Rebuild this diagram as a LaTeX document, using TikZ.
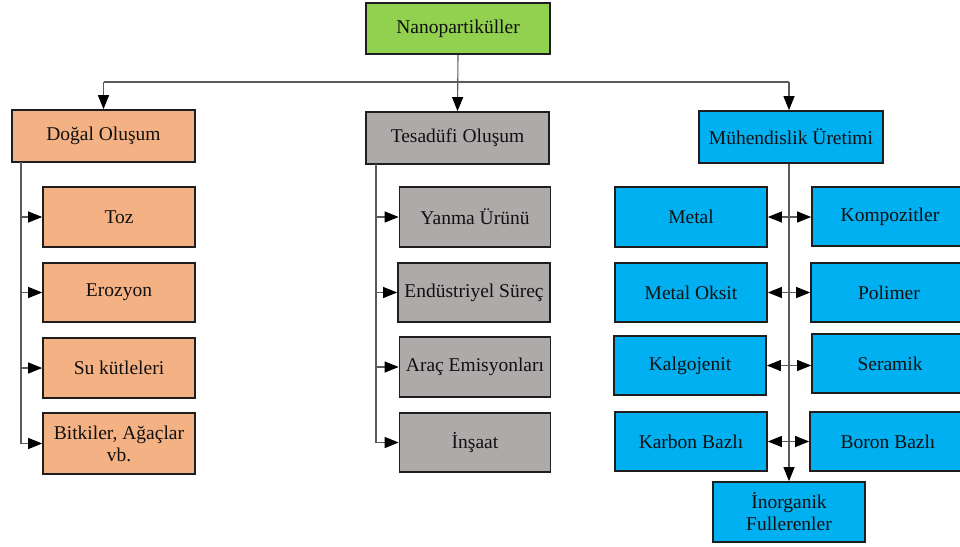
\documentclass[tikz,border=0pt]{standalone}
\usepackage{fontspec}
\setmainfont{Liberation Serif}
\usetikzlibrary{arrows.meta}
\definecolor{cgreen}{HTML}{92D050}
\definecolor{corange}{HTML}{F4B183}
\definecolor{cgray}{HTML}{AEAAAA}
\definecolor{cblue}{HTML}{00B0F0}
\definecolor{cline}{HTML}{5A5A5A}
\definecolor{cborder}{HTML}{1E1E1E}
\definecolor{ctext}{HTML}{101010}
\tikzset{
  box/.style={draw=cborder, line width=1.7pt, inner sep=0pt, align=center,
    text=ctext, font=\fontsize{19.5}{22}\selectfont},
  conn/.style={draw=cline, line width=1.1pt},
  tipa/.tip={Triangle[length=14pt,width=11pt,color=black,fill=black]},
  arr/.style={conn, -tipa},
  darr/.style={conn, tipa-tipa},
}
\begin{document}
\begin{tikzpicture}[x=1pt,y=-1pt]
\clip (0,0) rectangle (960,546);
\useasboundingbox (0,0) rectangle (960,546);
% top
\node[box, fill=cgreen, minimum width=184pt, minimum height=51pt] (top) at (458,28.5) {Nanopartiküller};
% level 1
\node[box, fill=corange, minimum width=183pt, minimum height=52pt] (dog) at (103.5,136) {Doğal Oluşum};
\node[box, fill=cgray, minimum width=183pt, minimum height=52pt] (tes) at (457.5,138) {Tesadüfi Oluşum};
\node[box, fill=cblue, minimum width=184pt, minimum height=52pt] (muh) at (791,137) {Mühendislik Üretimi};
% Doğal children
\node[box, fill=corange, minimum width=152pt, minimum height=60pt] (d1) at (119,217) {Toz};
\node[box, fill=corange, minimum width=152pt, minimum height=59pt] (d2) at (119,292.5) {Erozyon};
\node[box, fill=corange, minimum width=152pt, minimum height=60pt] (d3) at (119,368) {Su kütleleri};
\node[box, fill=corange, minimum width=152pt, minimum height=61pt] (d4) at (119,443.5) {Bitkiler, Ağaçlar\\vb.};
% Tesadüfi children
\node[box, fill=cgray, minimum width=151pt, minimum height=60pt] (t1) at (475,217) {Yanma Ürünü};
\node[box, fill=cgray, minimum width=152pt, minimum height=59pt] (t2) at (474,292.5) {Endüstriyel Süreç};
\node[box, fill=cgray, minimum width=151pt, minimum height=60pt] (t3) at (475,367) {Araç Emisyonları};
\node[box, fill=cgray, minimum width=151pt, minimum height=59pt] (t4) at (475,442.5) {İnşaat};
% Mühendislik children left
\node[box, fill=cblue, minimum width=152pt, minimum height=60pt] (m1) at (691,217) {Metal};
\node[box, fill=cblue, minimum width=152pt, minimum height=59pt] (m2) at (691,292.5) {Metal Oksit};
\node[box, fill=cblue, minimum width=152pt, minimum height=59pt] (m3) at (690,365.5) {Kalgojenit};
\node[box, fill=cblue, minimum width=152pt, minimum height=59pt] (m4) at (691,441.5) {Karbon Bazlı};
% right
\node[box, fill=cblue, minimum width=156pt, minimum height=59pt] (k1) at (890,216.5) {Kompozitler};
\node[box, fill=cblue, minimum width=156pt, minimum height=59pt] (k2) at (889,292.5) {Polimer};
\node[box, fill=cblue, minimum width=156pt, minimum height=59pt] (k3) at (890,363.5) {Seramik};
\node[box, fill=cblue, minimum width=156pt, minimum height=59pt] (k4) at (888,441.5) {Boron Bazlı};
% bottom
\node[box, fill=cblue, minimum width=152pt, minimum height=60pt] (ino) at (789,512) {İnorganik\\Fullerenler};

% top connectors
\coordinate (bus) at (458,82);
\draw[arr] (top.south) -- (tes.north);
\draw[conn] (bus -| dog.north) -- (bus -| ino.north);
\draw[arr] (bus -| dog.north) -- (dog.north);
\draw[arr] (bus -| ino.north) -- (muh.north -| ino.north);

% Doğal spine
\coordinate (ds) at (21,162);
\draw[arr] (ds) |- (d4.west);
\foreach \n in {d1,d2,d3} \draw[arr] (ds |- \n.west) -- (\n.west);
% Tesadüfi spine
\coordinate (ts) at (376,164);
\draw[arr] (ts) |- (t4.west);
\foreach \n in {t1,t2,t3} \draw[arr] (ts |- \n.west) -- (\n.west);
% Mühendislik spine
\draw[arr] (muh.south -| ino.north) -- (ino.north);
\foreach \a/\b in {m1/k1,m2/k2,m3/k3,m4/k4} \draw[darr] (\a.east) -- (\a.east -| \b.west);
\end{tikzpicture}
\end{document}
